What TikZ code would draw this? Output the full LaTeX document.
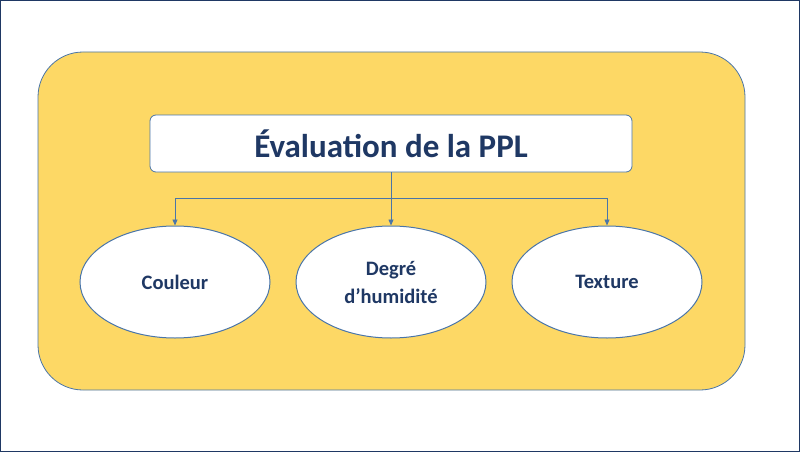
\documentclass[tikz,border=0pt]{standalone}
\usepackage{fontspec}
\setmainfont{Carlito}
\usetikzlibrary{shapes.geometric,arrows.meta}
\definecolor{navy}{HTML}{1F3864}
\definecolor{edge}{HTML}{4A75A8}
\definecolor{gold}{HTML}{FDD865}
\tikzset{
  elli/.style={ellipse,draw=edge,line width=1pt,fill=white,minimum width=190pt,minimum height=112pt,inner sep=0pt,font=\bfseries\fontsize{20.5}{28}\selectfont,text=navy,align=center},
  conn/.style={draw=edge,line width=0.8pt},
}
\begin{document}
\begin{tikzpicture}[x=1pt,y=-1pt]
\useasboundingbox (0,0) rectangle (800,452);
\draw[navy,line width=1.2pt] (0.6,0.6) rectangle (799.4,451.4);
\node[draw=edge,line width=0.8pt,fill=gold,rounded corners=45pt,minimum width=707pt,minimum height=338pt] (bg) at (391.5,221) {};
\node[draw=edge,line width=0.8pt,fill=white,rounded corners=6pt,minimum width=482pt,minimum height=57pt,text=navy,font=\bfseries\fontsize{33}{36}\selectfont] (t) at (391,143.5) {Évaluation de la PPL};
\node[elli] (a) at (175,282) {Couleur};
\node[elli] (b) at (391,282) {Degré\\d’humidité};
\node[elli] (c) at (607,282) {Texture};
\coordinate (j) at (391,198);
\draw[conn] (t.south) -- (j);
\draw[conn] (a.north |- j) -- (c.north |- j);
\foreach \n in {a,b,c} \draw[conn,-{Triangle[length=6pt,width=5pt]}] (\n.north |- j) -- (\n.north);
\end{tikzpicture}
\end{document}
